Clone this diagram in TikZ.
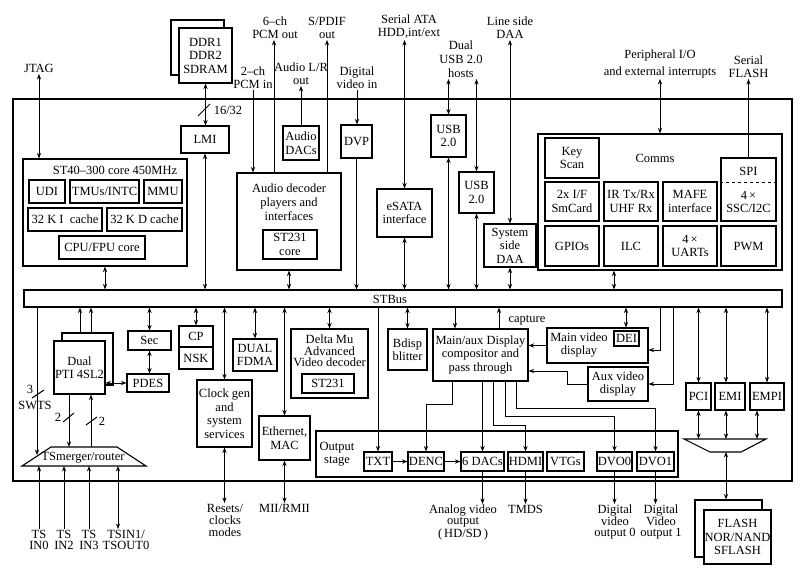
\documentclass[tikz,border=0pt]{standalone}
\usepackage{fontspec}
\setmainfont{Liberation Serif}
\usetikzlibrary{arrows.meta,calc}
\newcommand\mybox[7][]{\node[bx,minimum width={(#5-#3)*1pt},minimum height={(#6-#4)*1pt},#1] (#2) at ({(#3+#5)/2},{(#4+#6)/2}) {#7};}
\begin{document}
\begin{tikzpicture}[x=1pt,y=-1pt,
  font=\fontsize{12.5}{13.5}\selectfont,
  bx/.style={draw,line width=1.1pt,fill=white,inner sep=0pt,align=center},
  lbl/.style={inner sep=1pt,align=center},
  arr/.style={line width=1pt,-{Stealth[length=5.5pt,width=4.2pt]}},
  dbl/.style={line width=1pt,{Stealth[length=5.5pt,width=4.2pt]}-{Stealth[length=5.5pt,width=4.2pt]}},
  ln/.style={line width=1pt}]
\useasboundingbox (0,0) rectangle (800,573);
% chip frame
\mybox{chip}{13}{99}{792}{481}{}
% memory
\mybox{ddrb}{171}{20}{224}{75}{}
\mybox{ddr}{179}{28}{232}{83}{DDR1\\DDR2\\SDRAM}
\mybox{lmi}{181}{126}{229}{153}{LMI}
% ST40
\mybox{st40}{23}{159}{187}{266}{}
\node[lbl] (st40t) at (115,170) {ST40--300 core 450MHz};
\mybox{udi}{29}{180}{65}{203}{UDI}
\mybox{tmu}{70}{180}{139}{203}{TMUs/INTC}
\mybox{mmu}{144}{180}{182}{203}{MMU}
\mybox{icache}{28}{208}{102}{231}{32 K I\ \ cache}
\mybox{dcache}{107}{208}{182}{231}{32 K D cache}
\mybox{cpu}{59}{236}{145}{259}{CPU/FPU core}
% audio
\mybox{audio}{237}{173}{341}{270}{}
\node[lbl,font=\fontsize{12.5}{14}\selectfont] (audiot) at (289,202) {Audio decoder\\players and\\interfaces};
\mybox{st231a}{263}{230}{317}{259}{ST231\\core}
\mybox{dacs}{283}{126}{319}{160}{Audio\\DACs}
\mybox{dvp}{341}{125}{372}{158}{DVP}
\mybox{esata}{377}{189}{432}{237}{eSATA\\interface}
\mybox{usb1}{431}{115}{466}{157}{USB\\2.0}
\mybox{usb2}{459}{172}{494}{213}{USB\\2.0}
\mybox{sdaa}{484}{224}{536}{267}{System\\side\\DAA}
% comms
\mybox{comms}{538}{134}{782}{270}{}
\node[lbl] (commst) at (655,158) {Comms};
\mybox{key}{545}{138}{599}{178}{Key\\Scan}
\mybox{smc}{545}{182}{599}{221}{2x I/F\\SmCard}
\mybox{ir}{604}{182}{658}{221}{IR Tx/Rx\\UHF Rx}
\mybox{mafe}{663}{182}{717}{221}{MAFE\\interface}
\mybox{spi}{721}{158}{776}{221}{}
\draw[ln,dashed] ([yshift=7.5pt]spi.west) -- ([yshift=7.5pt]spi.east);
\node[lbl] (spit) at (748.5,171) {SPI};
\node[lbl] (ssct) at (748.5,202) {4\,×\\SSC/I2C};
\mybox{gpio}{545}{226}{599}{266}{GPIOs}
\mybox{ilc}{604}{226}{658}{266}{ILC}
\mybox{uart}{663}{226}{717}{266}{4\,×\\UARTs}
\mybox{pwm}{721}{226}{776}{266}{PWM}
% bus
\mybox{bus}{24}{290}{782}{307}{}
\node[lbl] (bust) at (390,299) {STBus};
% lower left
\mybox{ptib}{62}{333}{113}{385}{}
\mybox{pti}{54}{341}{105}{394}{Dual\\PTI 4SL2}
\mybox{sec}{128}{331}{171}{350}{Sec}
\mybox{pdes}{127}{374}{169}{392}{PDES}
\mybox{cp}{179}{326}{213}{347}{CP}
\mybox{nsk}{179}{347}{213}{369}{NSK}
\mybox{clk}{197}{380}{252}{447}{Clock gen\\and\\system\\services}
\mybox{fdma}{233}{339}{277}{371}{DUAL\\FDMA}
\mybox{eth}{259}{416}{310}{460}{Ethernet,\\MAC}
\mybox{delta}{291}{329}{368}{398}{}
\node[lbl,font=\fontsize{12.5}{11.5}\selectfont] (deltat) at (329.5,351) {Delta Mu\\Advanced\\Video decoder};
\mybox{st231d}{302}{374}{354}{393}{ST231}
\mybox{bdisp}{388}{329}{427}{370}{Bdisp\\blitter}
\mybox{comp}{433}{329}{528}{381}{Main/aux Display\\compositor and\\pass through}
\mybox{mvd}{547}{328}{648}{363}{}
\node[lbl] (mvdt) at (579,345) {Main video\\display};
\mybox{dei}{614}{331}{639}{346}{DEI}
\mybox{avd}{588}{367}{648}{401}{Aux video\\display}
\mybox{pci}{686}{383}{711}{410}{PCI}
\mybox{emi}{715}{383}{745}{410}{EMI}
\mybox{empi}{750}{383}{784}{410}{EMPI}
% output stage
\mybox{outst}{316}{431}{678}{477}{}
\node[lbl] (outt) at (337,454) {Output\\stage};
\mybox{txt}{364}{452}{392}{471}{TXT}
\mybox{denc}{408}{452}{444}{471}{DENC}
\mybox{dacs6}{461}{452}{504}{471}{6 DACs}
\mybox{hdmi}{508}{452}{543}{471}{HDMI}
\mybox{vtg}{547}{452}{584}{471}{VTGs}
\mybox{dvo0}{597}{452}{632}{471}{DVO0}
\mybox{dvo1}{637}{452}{674}{471}{DVO1}
% flash
\mybox{flashb}{695}{500}{762}{557}{}
\mybox{flash}{704}{510}{771}{564}{FLASH\\NOR/NAND\\SFLASH}
% trapezoids
\draw[line width=1.1pt] (51,447) -- (117,447) -- (146,466) -- (22,466) -- cycle;
\node[lbl] (tsm) at (83,458) {TSmerger/router};
\coordinate (tstop) at (83,447);
\coordinate (tsbot) at (83,466);
\coordinate (tsL) at (37,455);
\draw[line width=1.1pt] (684,439) -- (766,439) -- (741,452) -- (710,452) -- cycle;
\coordinate (rtop) at (725,439);
\coordinate (rbot) at (726,452);
% external labels top
\node[lbl,anchor=south] (jtag) at (39,74) {JTAG};
\node[lbl,anchor=south] (pcm2) at (253,90) {2--ch\\PCM in};
\node[lbl,anchor=south] (pcm6) at (275,40) {6--ch\\PCM out};
\node[lbl,anchor=south] (spdif) at (327,40) {S/PDIF\\out};
\node[lbl,anchor=south] (audlr) at (301,86) {Audio L/R\\out};
\node[lbl,anchor=south] (dvin) at (357,90) {Digital\\video in};
\node[lbl,anchor=south] (sata) at (409,40) {Serial ATA\\HDD,int/ext};
\node[lbl,anchor=south,font=\fontsize{12.5}{14}\selectfont] (usbh) at (461,79) {Dual\\USB 2.0\\hosts};
\node[lbl,anchor=south] (ldaa) at (510,40) {Line side\\DAA};
\node[lbl,anchor=south,font=\fontsize{12.5}{17}\selectfont] (peri) at (660,79) {Peripheral I/O\\and external interrupts};
\node[lbl,anchor=south] (sflash) at (748.5,79) {Serial\\FLASH};
% external labels bottom
\node[lbl,anchor=north,font=\fontsize{12.5}{11.5}\selectfont] (tsin0) at (39,529) {TS\\IN0};
\node[lbl,anchor=north,font=\fontsize{12.5}{11.5}\selectfont] (tsin2) at (64,529) {TS\\IN2};
\node[lbl,anchor=north,font=\fontsize{12.5}{11.5}\selectfont] (tsin3) at (89,529) {TS\\IN3};
\node[lbl,anchor=north,font=\fontsize{12.5}{11.5}\selectfont] (tsin1) at (126,529) {TSIN1/\\TSOUT0};
\coordinate (k3) at (118,0);
\node[lbl,anchor=north,font=\fontsize{12.5}{12}\selectfont] (resets) at (225,503) {Resets/\\clocks\\modes};
\node[lbl,anchor=north] (mii) at (284.5,503) {MII/RMII};
\node[lbl,anchor=north,font=\fontsize{12.5}{11}\selectfont] (analog) at (463,504) {Analog video\\output\\(\,HD/SD\,)};
\node[lbl,anchor=north] (tmds) at (525.5,504) {TMDS};
\node[lbl,anchor=north,font=\fontsize{12.5}{11.5}\selectfont] (dvo0l) at (615,504) {Digital\\video\\output 0};
\node[lbl,anchor=north,font=\fontsize{12.5}{11.5}\selectfont] (dvo1l) at (661,504) {Digital\\Video\\output 1};
% inner labels
\node[lbl] (capt) at (527,320) {capture};
\node[lbl] (n1632) at (228,110) {16/32};
\node[lbl] (n3) at (30,389) {3};
\node[lbl] (nswts) at (35,405) {SWTS};
\node[lbl] (n2a) at (58,417) {2};
\node[lbl] (n2b) at (102,421) {2};
% ---- connectors top
\draw[dbl] (jtag.south) -- (jtag.south |- st40.north);
\draw[dbl] (ddr.south) -- (ddr.south |- lmi.north);
\draw[ln] (198,116) -- (210,104);
\draw[dbl] (lmi.south) -- (lmi.south |- bus.north);
\draw[dbl] (st40.south) -- (st40.south |- bus.north);
\draw[arr] (pcm2.south) -- (pcm2.south |- audio.north);
\coordinate (k6) at (274,0);
\draw[arr] (k6 |- audio.north) -- (k6 |- pcm6.south);
\draw[arr] (spdif.south |- audio.north) -- (spdif.south);
\draw[arr] (dacs.north) -- (dacs.north |- audlr.south);
\draw[dbl] (audio.south) -- (audio.south |- bus.north);
\draw[arr] (dvin.south) -- (dvin.south |- dvp.north);
\draw[arr] (dvp.south) -- (dvp.south |- bus.north);
\draw[dbl] (esata.north |- sata.south) -- (esata.north);
\draw[dbl] (esata.south) -- (esata.south |- bus.north);
\draw[dbl] (usb1.north |- usbh.south) -- (usb1.north);
\draw[dbl] (usb2.north |- usbh.south) -- (usb2.north);
\draw[dbl] (usb1.south) -- (usb1.south |- bus.north);
\draw[dbl] (usb2.south) -- (usb2.south |- bus.north);
\draw[dbl] (ldaa.south) -- (ldaa.south |- sdaa.north);
\draw[dbl] (sdaa.south) -- (sdaa.south |- bus.north);
\draw[dbl] (peri.south) -- (peri.south |- comms.north);
\draw[arr] (spi.north) -- (spi.north |- sflash.south);
\coordinate (kc) at (614,0);
\draw[dbl] (kc |- comms.south) -- (kc |- bus.north);
% ---- connectors bottom left
\draw[arr] (tsL |- bus.south) -- (tsL);
\draw[ln] (32,398) -- (44,390);
\coordinate (pa) at (80,0);
\coordinate (pb) at (91,0);
\draw[arr] (pa |- ptib.north) -- (pa |- bus.south);
\draw[arr] (pb |- ptib.north) -- (pb |- bus.south);
\draw[dbl] (pti.east |- pdes.west) -- (pdes.west);
\draw[dbl] (sec.north) -- (sec.north |- bus.south);
\draw[dbl] (sec.south) -- (sec.south |- pdes.north);
\coordinate (p1) at (69,0);
\draw[arr] (p1 |- pti.south) -- (p1 |- tstop);
\draw[ln] (63,422) -- (74,413);
\draw[arr] (pb |- tstop) -- (pb |- pti.south);
\draw[ln] (86,425) -- (97,417);
\draw[arr] (tsin0.north) -- (tsin0.north |- tsbot);
\draw[arr] (tsin2.north) -- (tsin2.north |- tsbot);
\draw[arr] (tsin3.north) -- (tsin3.north |- tsbot);
\draw[dbl] (k3 |- tsin1.north) -- (k3 |- tsbot);
\draw[dbl] (cp.north) -- (cp.north |- bus.south);
\draw[dbl] (clk.north) -- (clk.north |- bus.south);
\draw[dbl] (clk.south) -- (clk.south |- resets.north);
\draw[dbl] (fdma.north) -- (fdma.north |- bus.south);
\draw[dbl] (eth.north) -- (eth.north |- bus.south);
\draw[dbl] (eth.south) -- (eth.south |- mii.north);
\draw[dbl] (delta.north) -- (delta.north |- bus.south);
\draw[arr] (txt.north |- bus.south) -- (txt.north);
\draw[dbl] (bdisp.north) -- (bdisp.north |- bus.south);
% compositor
\coordinate (c1) at (455,0);
\coordinate (c2) at (499,0);
\draw[arr] (c1 |- bus.south) -- (c1 |- comp.north);
\draw[arr] (c2 |- comp.north) -- (c2 |- bus.south);
\coordinate (kd) at (626,0);
\draw[dbl] (kd |- bus.south) -- (kd |- mvd.north);
\draw[arr] (mvd.west) -- (mvd.west -| comp.east);
\coordinate (k1) at (660,0);
\coordinate (k2) at (673,0);
\draw[arr] (k1 |- bus.south) |- ([yshift=-4.5pt]mvd.east);
\draw[arr] (k2 |- bus.south) |- (avd.east);
\draw[arr] (avd.west) -- ++(-20,0) |- ([yshift=-16pt]comp.east);
\coordinate (o1) at (452,0);
\coordinate (o3) at (493,0);
\coordinate (o4) at (505,0);
\coordinate (o5) at (516,0);
\draw[arr] (o1 |- comp.south) -- ++(0,23) -| (denc.north);
\draw[arr] (dacs6.north |- comp.south) -- (dacs6.north);
\draw[arr] (o3 |- comp.south) -- ++(0,44) -| (hdmi.north);
\draw[arr] (o4 |- comp.south) -- ++(0,35) -| (dvo0.north);
\draw[arr] (o5 |- comp.south) -- ++(0,27) -| (dvo1.north);
\draw[arr] (txt.east) -- (denc.west);
\draw[arr] (denc.east) -- (dacs6.west);
\draw[arr] (dacs6.south) -- (dacs6.south |- analog.north);
\draw[arr] (hdmi.south) -- (hdmi.south |- tmds.north);
\draw[arr] (dvo0.south) -- (dvo0.south |- dvo0l.north);
\draw[arr] (dvo1.south) -- (dvo1.south |- dvo1l.north);
% PCI EMI EMPI
\coordinate (ke) at (726,0);
\coordinate (kf) at (767,0);
\coordinate (kg) at (757,0);
\draw[dbl] (pci.north) -- (pci.north |- bus.south);
\draw[dbl] (ke |- emi.north) -- (ke |- bus.south);
\draw[dbl] (kf |- empi.north) -- (kf |- bus.south);
\draw[dbl] (pci.south) -- (pci.south |- rtop);
\draw[dbl] (ke |- emi.south) -- (ke |- rtop);
\draw[dbl] (kg |- empi.south) -- (kg |- rtop);
\draw[dbl] (rbot) -- (rbot |- flashb.north);
\end{tikzpicture}
\end{document}
